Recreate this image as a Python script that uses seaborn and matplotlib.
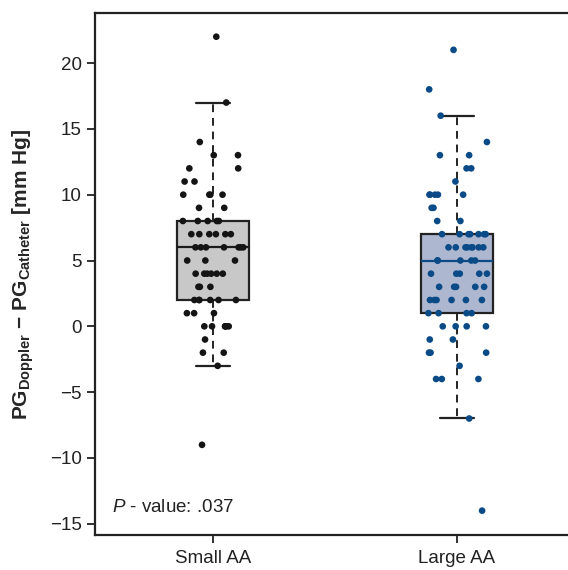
import numpy as np
import pandas as pd
import matplotlib
matplotlib.use("Agg")
import matplotlib.pyplot as plt
import seaborn as sns

# ── Data: pressure-gradient difference (integer mm Hg) and number of patients ──
groups = ["Small AA", "Large AA"]

small_levels = [22, 17, 14, 13, 12, 11, 10, 9, 8, 7, 6, 5, 4, 3, 2, 1, 0, -1, -2, -3, -9]
small_counts = [1, 1, 1, 2, 2, 2, 4, 2, 5, 6, 7, 3, 6, 3, 6, 3, 6, 1, 2, 1, 1]

large_levels = [21, 18, 16, 14, 13, 12, 11, 10, 9, 8, 7, 6, 5, 4, 3, 2, 1, 0, -1, -2, -3, -4, -7, -14]
large_counts = [1, 1, 1, 1, 2, 2, 1, 5, 2, 2, 7, 8, 5, 5, 5, 6, 4, 4, 2, 3, 1, 3, 1, 1]

p_value_text = r"$P$ - value: .037"

box_colors = {"Small AA": "#c8c8c8", "Large AA": "#a7b6d6"}
dot_colors = {"Small AA": "#141414", "Large AA": "#0a4a86"}
median_colors = {"Small AA": "#1a1a1a", "Large AA": "#0a4a86"}

df = pd.concat([
    pd.DataFrame({"group": "Small AA", "diff": np.repeat(small_levels, small_counts)}),
    pd.DataFrame({"group": "Large AA", "diff": np.repeat(large_levels, large_counts)}),
], ignore_index=True)

# ── Style ──────────────────────────────────────────────────────────────────────
sns.set_style("ticks")
plt.rcParams["font.family"] = ["Liberation Sans", "DejaVu Sans"]
plt.rcParams["mathtext.fontset"] = "custom"
plt.rcParams["mathtext.rm"] = "Liberation Sans"
plt.rcParams["mathtext.it"] = "Liberation Sans:italic"
plt.rcParams["mathtext.bf"] = "Liberation Sans:bold"

fig = plt.figure(figsize=(5.68, 5.70), dpi=100)
ax = fig.add_axes([95 / 568, 35 / 570, 473 / 568, 522 / 570])

# ── Boxes (one call per group so the median colour can differ) ─────────────────
for g in groups:
    sns.boxplot(
        data=df[df["group"] == g], x="group", y="diff", order=groups,
        color=box_colors[g], width=0.295, showfliers=False, ax=ax,
        linecolor="#222222", linewidth=1.6,
        whiskerprops=dict(linestyle=(0, (4, 3)), linewidth=1.4),
        capprops=dict(linewidth=1.6),
        medianprops=dict(color=median_colors[g], linewidth=1.6),
        capwidths=0.14,
    )

# ── Points ─────────────────────────────────────────────────────────────────────
np.random.seed(3)
sns.stripplot(
    data=df, x="group", y="diff", order=groups, hue="group", palette=dot_colors,
    jitter=0.13, size=4.8, linewidth=0, legend=False, ax=ax, zorder=5,
)

ax.set_xlim(-0.484, 1.455)
ax.set_ylim(-15.85, 23.8)
ax.set_yticks(np.arange(-15, 21, 5))
ax.set_xlabel("")
ax.set_ylabel(r"$\mathbf{PG}_{\mathbf{Doppler}}\ \mathbf{-}\ \mathbf{PG}_{\mathbf{Catheter}}$ [mm Hg]",
              fontsize=15, fontweight="bold", labelpad=10)
ax.tick_params(axis="both", labelsize=13.5, length=6, width=1.3, colors="#222222")
ax.tick_params(axis="x", pad=5)
for side in ["left", "bottom", "top"]:
    ax.spines[side].set_visible(True)
    ax.spines[side].set_linewidth(1.6)
    ax.spines[side].set_color("#222222")
ax.spines["right"].set_visible(False)

ax.text(0.036, 0.052, p_value_text, transform=ax.transAxes, fontsize=13.5,
        ha="left", va="center", color="#222222")

fig.savefig("out.png", dpi=100)
